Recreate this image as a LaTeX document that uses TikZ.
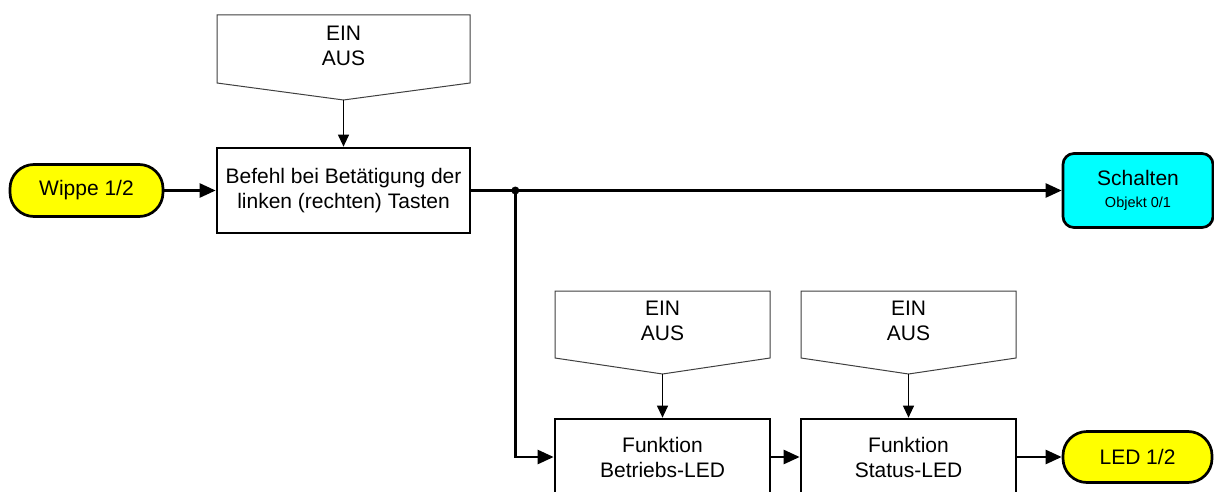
\documentclass[tikz,border=0pt]{standalone}
\usepackage{fontspec}
\setmainfont{Liberation Sans}
\usetikzlibrary{arrows.meta,calc}
\definecolor{pillyellow}{RGB}{255,255,0}
\definecolor{outcyan}{RGB}{0,255,255}
\tikzset{
  txt/.style={font=\fontsize{21}{25}\selectfont, align=center, inner sep=0pt},
  procbox/.style={draw=black, line width=2.7pt, fill=white, txt},
  pill/.style={draw=black, line width=2.7pt, fill=pillyellow, rounded corners=24pt, txt},
  outbox/.style={draw=black, line width=2.7pt, fill=outcyan, rounded corners=11pt, txt},
  pent/.style={draw=black!75, line width=1pt, fill=white},
  conn/.style={line width=2.5pt, -{Triangle[length=16pt,width=14pt]}},
  thinconn/.style={line width=1.1pt, -{Triangle[length=12pt,width=11pt]}},
}
\begin{document}
\begin{tikzpicture}[x=1pt,y=-1pt]
\useasboundingbox (0,0) rectangle (1214,492);
\clip (0,0) rectangle (1214,492);
\fill[white] (0,0) rectangle (1214,492);

% parameter pentagons
\draw[pent] (217,15) -- (470,15) -- (470,83) -- (343.5,100) -- (217,83) -- cycle;
\coordinate (t1) at (343.5,100);
\node[txt] (p1) at (343.5,45.5) {EIN\\AUS};

\draw[pent] (555,291) -- (770,291) -- (770,358) -- (662.5,374) -- (555,358) -- cycle;
\coordinate (t2) at (662.5,374);
\node[txt] (p2) at (662.5,320.5) {EIN\\AUS};

\draw[pent] (801,291) -- (1016,291) -- (1016,358) -- (908.5,374) -- (801,358) -- cycle;
\coordinate (t3) at (908.5,374);
\node[txt] (p3) at (908.5,320.5) {EIN\\AUS};

% main nodes
\node[pill, minimum width=153pt, minimum height=52pt] (wippe) at (86.5,190.5) {Wippe 1/2};
\node[procbox, minimum width=253pt, minimum height=85pt] (main) at (343.5,190.5) {Befehl bei Betätigung der\\linken (rechten) Tasten};
\node[outbox, minimum width=150pt, minimum height=74pt] (schalten) at (1138,190.5)
  {Schalten\\[-3pt]{\fontsize{14.5}{17}\selectfont Objekt 0/1}};
\node[procbox, minimum width=215pt, minimum height=76pt] (f1) at (662.5,457) {Funktion\\Betriebs-LED};
\node[procbox, minimum width=215pt, minimum height=76pt] (f2) at (908.5,457) {Funktion\\Status-LED};
\node[pill, minimum width=149pt, minimum height=51pt] (led) at (1137.5,457) {LED 1/2};

% connectors
\draw[thinconn] (t1) -- (main.north);
\draw[thinconn] (t2) -- (f1.north);
\draw[thinconn] (t3) -- (f2.north);
\draw[conn] (wippe.east) -- (main.west);
\draw[conn] (main.east) -- (schalten.west);
\coordinate (j) at ($(main.east)+(44,0)$);
\fill (j) circle (4pt);
\draw[conn] (j) |- (f1.west);
\draw[conn] (f1.east) -- (f2.west);
\draw[conn] (f2.east) -- (led.west);
\end{tikzpicture}
\end{document}
